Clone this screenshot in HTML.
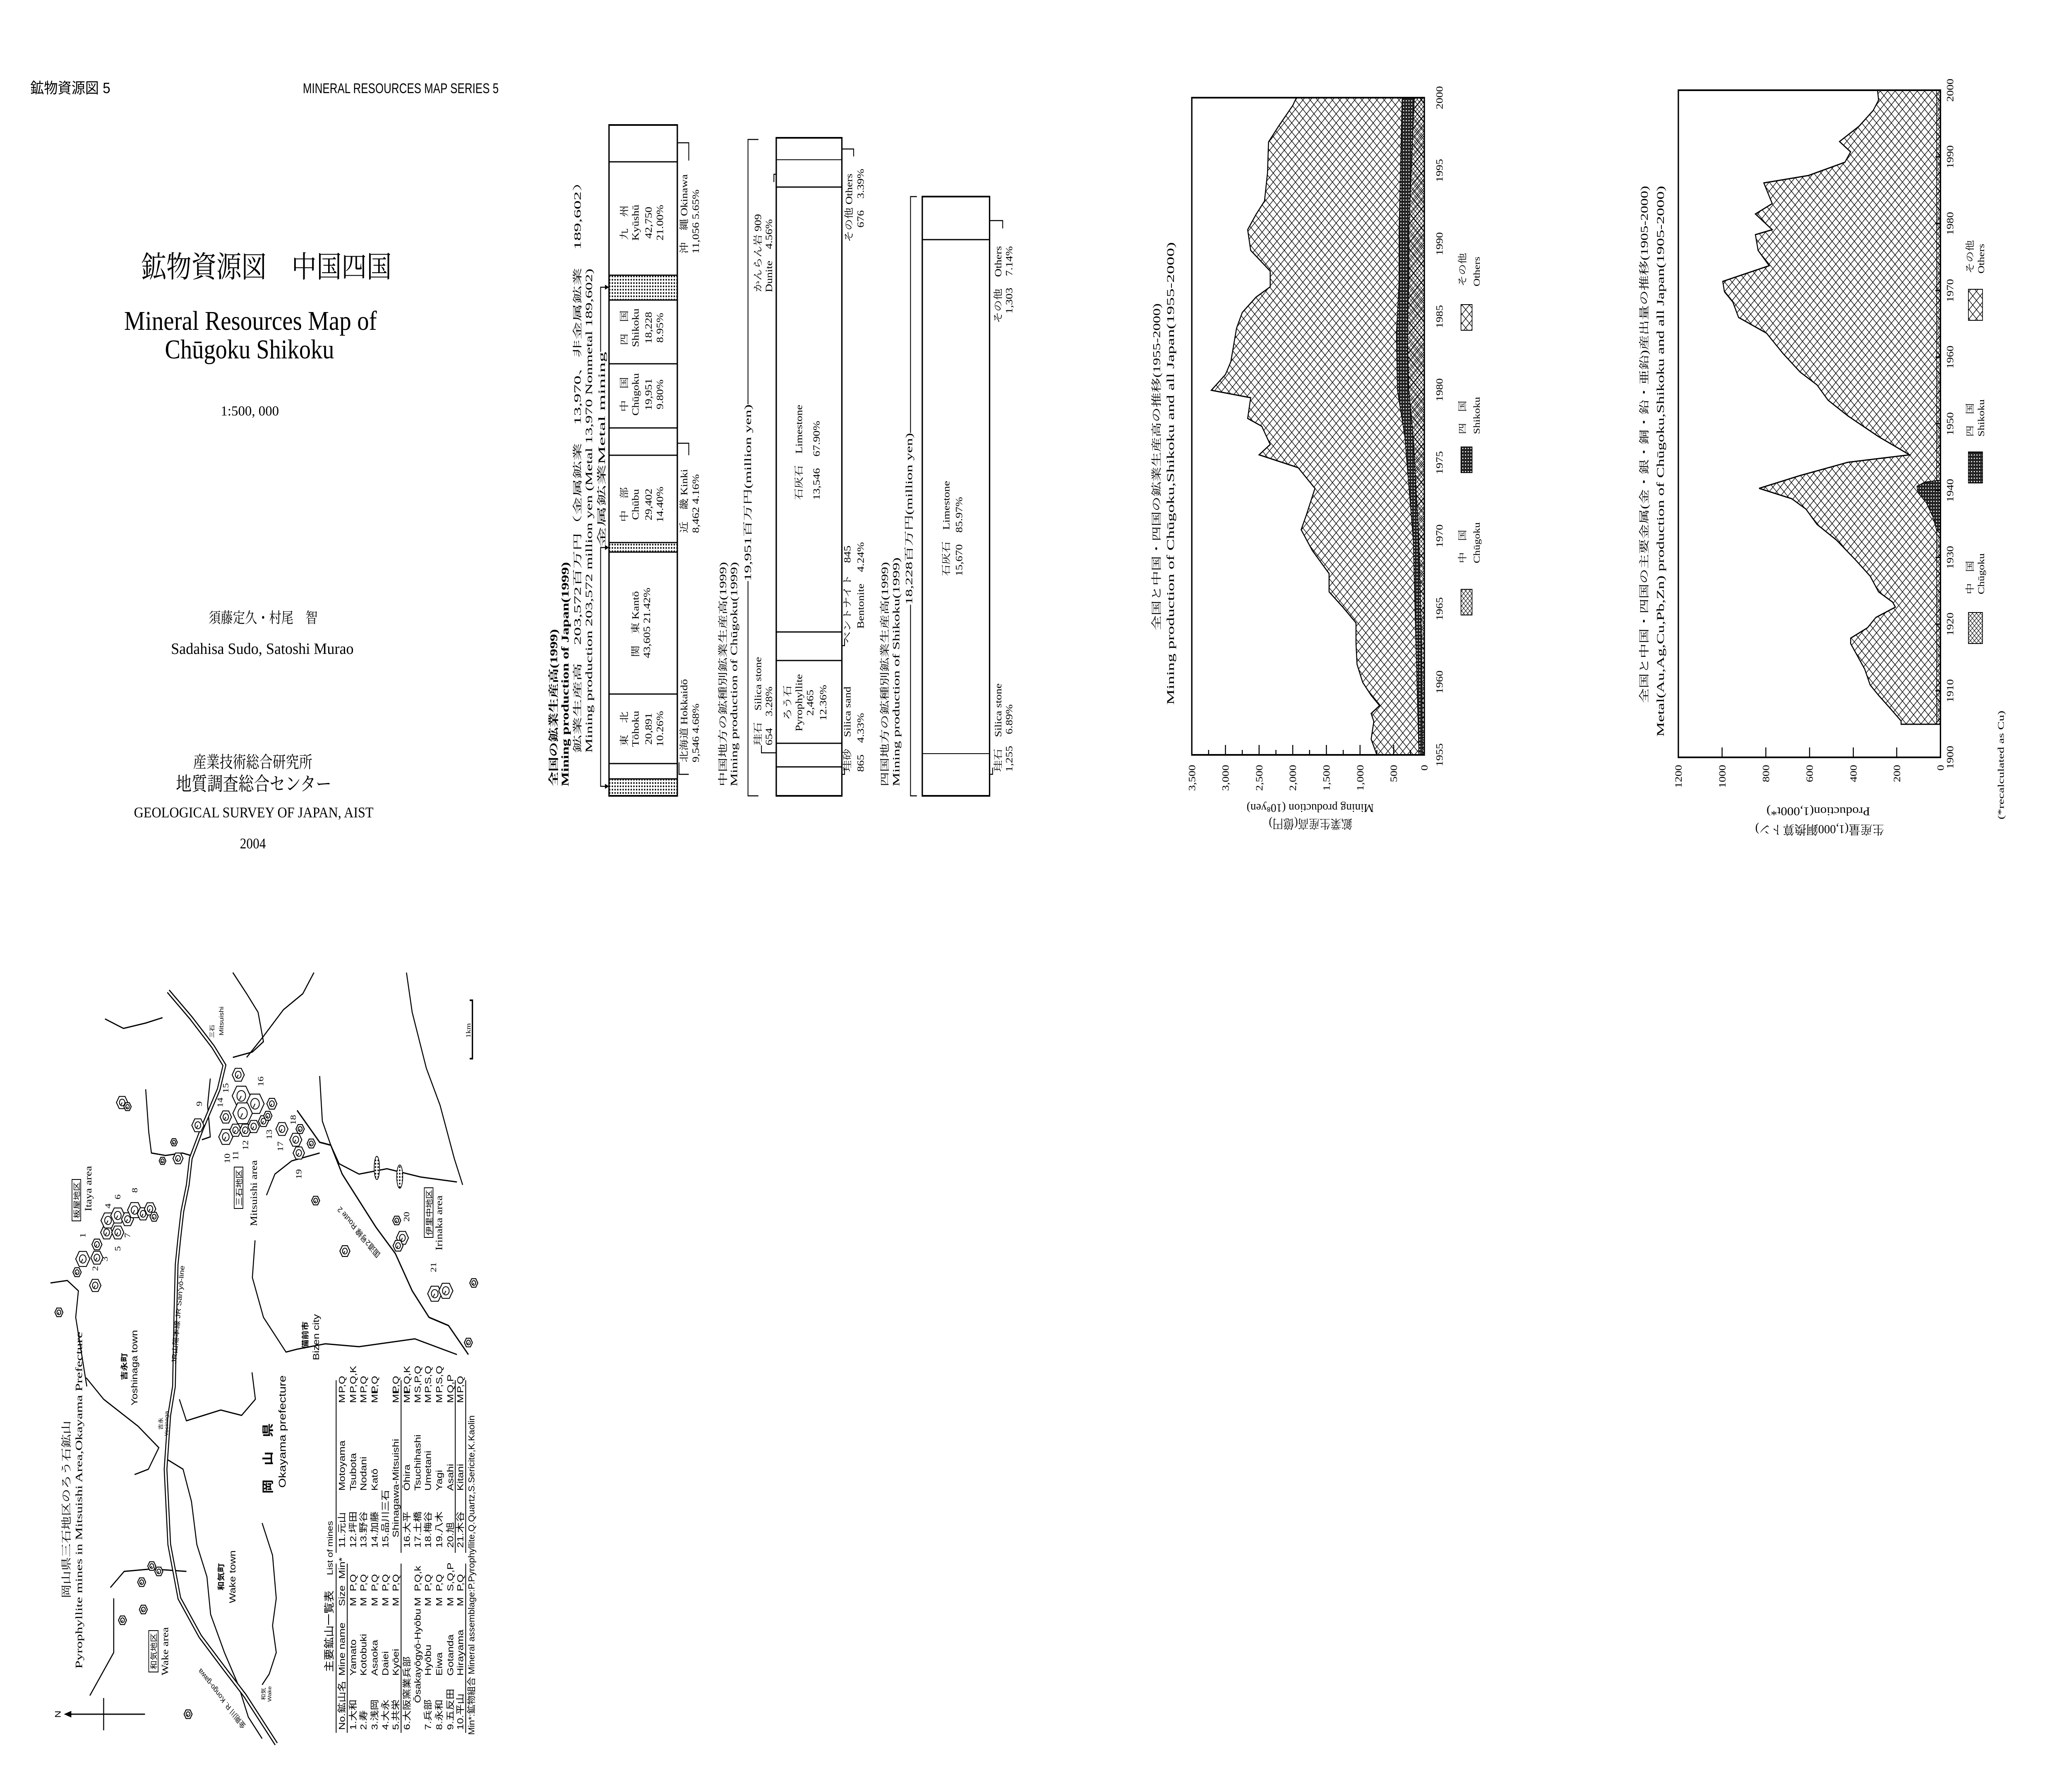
<!DOCTYPE html>
<html><head><meta charset="utf-8">
<style>
html,body{margin:0;padding:0;background:#fff;width:100%;height:100%;overflow:hidden;}
svg{display:block;width:100vw;height:100vh;}
.s{font-family:"Liberation Serif","Noto Serif CJK JP",serif;}
.g{font-family:"Liberation Sans","Noto Sans CJK JP",sans-serif;}
</style></head>
<body>
<svg xmlns="http://www.w3.org/2000/svg" xmlns:xlink="http://www.w3.org/1999/xlink" viewBox="0 0 6149 4330" preserveAspectRatio="none">
<defs>
<pattern id="hatch" width="22" height="22" patternUnits="userSpaceOnUse">
<path d="M0,0 L22,22 M22,0 L0,22" stroke="#000" stroke-width="1.6" fill="none"/>
</pattern>
<pattern id="hatch2" width="12" height="12" patternUnits="userSpaceOnUse">
<path d="M0,0 L12,12 M12,0 L0,12" stroke="#000" stroke-width="1.3" fill="none"/>
</pattern>
<pattern id="dark" width="8" height="8" patternUnits="userSpaceOnUse">
<rect width="8" height="8" fill="#222"/><rect x="2" y="2" width="3" height="3" fill="#fff"/>
</pattern>
<pattern id="dots" width="8" height="8" patternUnits="userSpaceOnUse">
<rect width="8" height="8" fill="#fff"/><circle cx="4" cy="4" r="2.2" fill="#000"/>
</pattern>
<g id="hx">
<polygon points="20,0 10,17.3 -10,17.3 -20,0 -10,-17.3 10,-17.3" fill="#fff" stroke="#000" stroke-width="2.2" vector-effect="non-scaling-stroke"/>
<circle r="9.5" fill="none" stroke="#000" stroke-width="2" vector-effect="non-scaling-stroke"/>
<line x1="0" y1="0" x2="-4" y2="7" stroke="#000" stroke-width="2" vector-effect="non-scaling-stroke"/>
</g>
</defs>
<rect width="6149" height="4330" fill="#fff"/>

<!-- ===== Header / Title page ===== -->
<text class="g" x="90" y="225" font-size="36" textLength="238" lengthAdjust="spacingAndGlyphs">鉱物資源図 5</text>
<text class="g" x="900" y="225" font-size="34" textLength="582" lengthAdjust="spacingAndGlyphs">MINERAL RESOURCES MAP SERIES 5</text>
<text class="s" x="420" y="670" font-size="72" textLength="744" lengthAdjust="spacingAndGlyphs">鉱物資源図　中国四国</text>
<text class="s" x="369" y="797" font-size="66" textLength="751" lengthAdjust="spacingAndGlyphs">Mineral Resources Map of</text>
<text class="s" x="490" y="866" font-size="66" textLength="503" lengthAdjust="spacingAndGlyphs">Chūgoku Shikoku</text>
<text class="s" x="656" y="1004" font-size="34" textLength="173" lengthAdjust="spacingAndGlyphs">1:500, 000</text>
<text class="s" x="620" y="1505" font-size="36" textLength="324" lengthAdjust="spacingAndGlyphs">須藤定久・村尾　智</text>
<text class="s" x="508" y="1580" font-size="38" textLength="543" lengthAdjust="spacingAndGlyphs">Sadahisa Sudo, Satoshi Murao</text>
<text class="s" x="574" y="1855" font-size="40" textLength="354" lengthAdjust="spacingAndGlyphs">産業技術総合研究所</text>
<text class="s" x="523" y="1910" font-size="46" textLength="462" lengthAdjust="spacingAndGlyphs">地質調査総合センター</text>
<text class="s" x="398" y="1975" font-size="36" textLength="712" lengthAdjust="spacingAndGlyphs">GEOLOGICAL SURVEY OF JAPAN, AIST</text>
<text class="s" x="713" y="2050" font-size="36" textLength="77" lengthAdjust="spacingAndGlyphs">2004</text>

<!-- ===== Bar charts ===== -->
<g class="s" fill="#000">
<rect x="1810" y="665" width="203" height="60" fill="url(#dots)"/>
<rect x="1810" y="1311" width="203" height="23" fill="url(#dots)"/>
<rect x="1810" y="1882" width="203" height="41" fill="url(#dots)"/>
<rect x="1810" y="302" width="203" height="1621" fill="none" stroke="#000" stroke-width="4"/>
<g stroke="#000" stroke-width="3">
<line x1="1810" y1="391" x2="2013" y2="391"/>
<line x1="1810" y1="665" x2="2013" y2="665"/>
<line x1="1810" y1="725" x2="2013" y2="725"/>
<line x1="1810" y1="879" x2="2013" y2="879"/>
<line x1="1810" y1="1034" x2="2013" y2="1034"/>
<line x1="1810" y1="1100" x2="2013" y2="1100"/>
<line x1="1810" y1="1311" x2="2013" y2="1311"/>
<line x1="1810" y1="1334" x2="2013" y2="1334"/>
<line x1="1810" y1="1677" x2="2013" y2="1677"/>
<line x1="1810" y1="1845" x2="2013" y2="1845"/>
<line x1="1810" y1="1882" x2="2013" y2="1882"/>
</g>
<g font-size="28" text-anchor="middle">
<text transform="translate(1865,538) rotate(-90)">九　州</text>
<text transform="translate(1898,538) rotate(-90)">Kyūshū</text>
<text transform="translate(1937,538) rotate(-90)">42,750</text>
<text transform="translate(1971,538) rotate(-90)">21.00%</text>
<text transform="translate(1865,792) rotate(-90)">四　国</text>
<text transform="translate(1898,792) rotate(-90)">Shikoku</text>
<text transform="translate(1937,792) rotate(-90)">18,228</text>
<text transform="translate(1971,792) rotate(-90)">8.95%</text>
<text transform="translate(1865,953) rotate(-90)">中　国</text>
<text transform="translate(1898,953) rotate(-90)">Chūgoku</text>
<text transform="translate(1937,953) rotate(-90)">19,951</text>
<text transform="translate(1971,953) rotate(-90)">9.80%</text>
<text transform="translate(1865,1219) rotate(-90)">中　部</text>
<text transform="translate(1898,1219) rotate(-90)">Chūbu</text>
<text transform="translate(1937,1219) rotate(-90)">29,402</text>
<text transform="translate(1971,1219) rotate(-90)">14.40%</text>
<text transform="translate(1898,1508) rotate(-90)">関　東 Kantō</text>
<text transform="translate(1932,1505) rotate(-90)">43,605  21.42%</text>
<text transform="translate(1865,1761) rotate(-90)">東　北</text>
<text transform="translate(1898,1761) rotate(-90)">Tōhoku</text>
<text transform="translate(1937,1761) rotate(-90)">20,891</text>
<text transform="translate(1971,1761) rotate(-90)">10.26%</text>
</g>
<text transform="translate(1656,1900) rotate(-90)" font-size="31" font-weight="bold" textLength="380" lengthAdjust="spacingAndGlyphs">全国の鉱業生産高(1999)</text>
<text transform="translate(1690,1900) rotate(-90)" font-size="31" font-weight="bold" textLength="542" lengthAdjust="spacingAndGlyphs">Mining production of Japan(1999)</text>
<text transform="translate(1726,1819) rotate(-90)" font-size="28" textLength="1400" lengthAdjust="spacingAndGlyphs">鉱業生産高　203,572百万円（金属鉱業　13,970、非金属鉱業　189,602）</text>
<text transform="translate(1760,1819) rotate(-90)" font-size="28" textLength="1170" lengthAdjust="spacingAndGlyphs">Mining production 203,572 million yen (Metal 13,970 Nonmetal 189,602)</text>
<text transform="translate(1798,1323) rotate(-90)" font-size="28" textLength="473" lengthAdjust="spacingAndGlyphs">金属鉱業Metal mining</text>
<g stroke="#000" stroke-width="2.5" fill="none">
<polyline points="1785,850 1785,694 1806,694"/>
<polyline points="1806,1323 1785,1323 1785,1900 1806,1900"/>
<polyline points="2013,345 2047,345 2047,388"/>
<polyline points="2013,1071 2047,1071 2047,1100"/>
<polyline points="2018,1842 2018,1871 2047,1871"/>
</g>
<polygon points="1810,694 1798,688 1798,700"/>
<polygon points="1810,1323 1798,1317 1798,1329"/>
<polygon points="1810,1900 1798,1894 1798,1906"/>
<g font-size="28">
<text transform="translate(2043,613) rotate(-90)">沖　縄 Okinawa</text>
<text transform="translate(2077,613) rotate(-90)">11,056  5.65%</text>
<text transform="translate(2043,1288) rotate(-90)">近　畿 Kinki</text>
<text transform="translate(2077,1288) rotate(-90)">8,462  4.16%</text>
<text transform="translate(2043,1842) rotate(-90)">北海道 Hokkaidō</text>
<text transform="translate(2077,1842) rotate(-90)">9,546  4.68%</text>
</g>

<rect x="2307" y="333" width="195" height="1590" fill="none" stroke="#000" stroke-width="4"/>
<g stroke="#000" stroke-width="3">
<line x1="2307" y1="386" x2="2502" y2="386" stroke-width="2"/>
<line x1="2307" y1="452" x2="2502" y2="452"/>
<line x1="2307" y1="1527" x2="2502" y2="1527"/>
<line x1="2307" y1="1596" x2="2502" y2="1596"/>
<line x1="2307" y1="1796" x2="2502" y2="1796"/>
<line x1="2307" y1="1853" x2="2502" y2="1853"/>
</g>
<g font-size="28">
<text transform="translate(2384,1208) rotate(-90)">石灰石　Limestone</text>
<text transform="translate(2436,1208) rotate(-90)">13,546　67.90%</text>
</g>
<g font-size="28" text-anchor="middle">
<text transform="translate(2350,1698) rotate(-90)">ろう石</text>
<text transform="translate(2384,1698) rotate(-90)">Pyrophyllite</text>
<text transform="translate(2417,1698) rotate(-90)">2,465</text>
<text transform="translate(2456,1698) rotate(-90)">12.36%</text>
</g>
<text transform="translate(2158,1900) rotate(-90)" font-size="29" textLength="542" lengthAdjust="spacingAndGlyphs">中国地方の鉱種別鉱業生産高(1999)</text>
<text transform="translate(2191,1900) rotate(-90)" font-size="29" textLength="542" lengthAdjust="spacingAndGlyphs">Mining production of Chūgoku(1999)</text>
<text transform="translate(2232,1404) rotate(-90)" font-size="28" textLength="427" lengthAdjust="spacingAndGlyphs">19,951百万円(million yen)</text>
<g stroke="#000" stroke-width="2.5" fill="none">
<polyline points="2254,337 2223,337 2223,977"/>
<polyline points="2223,1404 2223,1923 2254,1923"/>
<polyline points="2263,1801 2263,1819 2307,1819"/>
<polyline points="2300,440 2300,421 2307,421"/>
<polyline points="2502,360 2537,360 2537,378"/>
<polyline points="2502,1560 2510,1560 2510,1543"/>
<polyline points="2502,1871 2510,1871 2510,1855"/>
</g>
<g font-size="28">
<text transform="translate(2262,1801) rotate(-90)">珪石　Silica stone</text>
<text transform="translate(2295,1801) rotate(-90)">654　3.28%</text>
<text transform="translate(2262,706) rotate(-90)">かんらん岩 909</text>
<text transform="translate(2295,706) rotate(-90)">Dunite　4.56%</text>
<text transform="translate(2533,585) rotate(-90)">その他 Others</text>
<text transform="translate(2567,550) rotate(-90)">676　3.39%</text>
<text transform="translate(2528,1554) rotate(-90)">ベントナイト　845</text>
<text transform="translate(2567,1519) rotate(-90)">Bentonite　4.24%</text>
<text transform="translate(2528,1865) rotate(-90)">珪砂　Silica sand</text>
<text transform="translate(2567,1865) rotate(-90)">865　4.33%</text>
</g>

<rect x="2741" y="475" width="200" height="1448" fill="none" stroke="#000" stroke-width="4"/>
<line x1="2741" y1="579" x2="2941" y2="579" stroke="#000" stroke-width="3"/>
<line x1="2741" y1="1821" x2="2941" y2="1821" stroke="#000" stroke-width="2"/>
<g font-size="28">
<text transform="translate(2822,1392) rotate(-90)">石灰石　Limestone</text>
<text transform="translate(2860,1392) rotate(-90)">15,670　85.97%</text>
</g>
<text transform="translate(2639,1900) rotate(-90)" font-size="29" textLength="542" lengthAdjust="spacingAndGlyphs">四国地方の鉱種別鉱業生産高(1999)</text>
<text transform="translate(2673,1900) rotate(-90)" font-size="29" textLength="553" lengthAdjust="spacingAndGlyphs">Mining production of Shikoku(1999)</text>
<text transform="translate(2711,1461) rotate(-90)" font-size="28" textLength="415" lengthAdjust="spacingAndGlyphs">18,228百万円(million yen)</text>
<g stroke="#000" stroke-width="2.5" fill="none">
<polyline points="2725,475 2706,475 2706,1046"/>
<polyline points="2706,1461 2706,1923 2725,1923"/>
<polyline points="2941,533 2980,533 2980,552"/>
<polyline points="2941,1871 2950,1871 2950,1855"/>
</g>
<g font-size="28">
<text transform="translate(2976,781) rotate(-90)">その他　Others</text>
<text transform="translate(3009,758) rotate(-90)">1,303　7.14%</text>
<text transform="translate(2976,1865) rotate(-90)">珪石　Silica stone</text>
<text transform="translate(3009,1865) rotate(-90)">1,255　6.89%</text>
</g>
</g>

<!-- ===== Chart 1 ===== -->
<g class="s">
<text transform="translate(3448,1523) rotate(-90)" font-size="31" textLength="790" lengthAdjust="spacingAndGlyphs">全国と中国・四国の鉱業生産高の推移(1955-2000)</text>
<text transform="translate(3489,1703) rotate(-90)" font-size="31" textLength="1118" lengthAdjust="spacingAndGlyphs">Mining production of Chūgoku,Shikoku and all Japan(1955-2000)</text>
<polygon fill="url(#hatch)" stroke="#000" stroke-width="3" points="4233,236 3853,236 3842,255 3800,305 3770,343 3767,418 3758,486 3733,518 3708,555 3717,605 3775,655 3775,693 3733,718 3692,755 3675,793 3658,874 3642,905 3600,943 3717,961 3708,1011 3750,1030 3775,1074 3742,1099 3858,1130 3908,1180 3883,1243 3867,1280 3900,1330 3950,1386 3950,1430 3992,1468 4030,1505 4030,1555 4033,1605 4050,1649 4075,1680 4100,1705 4075,1724 4083,1743 4075,1786 4092,1824 4233,1824"/>
<polygon fill="url(#dark)" stroke="#000" stroke-width="2" points="4217,1824 4208,1555 4200,1305 4175,1055 4153,943 4150,805 4158,680 4158,555 4167,236 4203,236 4187,555 4187,680 4183,805 4187,943 4200,1055 4217,1305 4225,1555 4228,1824"/>
<polygon fill="url(#hatch2)" stroke="#000" stroke-width="1.5" points="4228,1824 4225,1555 4217,1305 4200,1055 4187,943 4183,805 4187,680 4187,555 4203,236 4233,236 4233,1824"/>
<rect x="3542" y="236" width="691" height="1588" fill="none" stroke="#000" stroke-width="4"/>
<g stroke="#000" stroke-width="3">
<line x1="4142" y1="1824" x2="4142" y2="1800"/><line x1="4042" y1="1824" x2="4042" y2="1800"/>
<line x1="3942" y1="1824" x2="3942" y2="1800"/><line x1="3842" y1="1824" x2="3842" y2="1800"/>
<line x1="3742" y1="1824" x2="3742" y2="1800"/><line x1="3642" y1="1824" x2="3642" y2="1800"/>
<line x1="4192" y1="1824" x2="4192" y2="1812"/><line x1="4092" y1="1824" x2="4092" y2="1812"/>
<line x1="3992" y1="1824" x2="3992" y2="1812"/><line x1="3892" y1="1824" x2="3892" y2="1812"/>
<line x1="3792" y1="1824" x2="3792" y2="1812"/><line x1="3692" y1="1824" x2="3692" y2="1812"/>
<line x1="3592" y1="1824" x2="3592" y2="1812"/>
</g>
<g font-size="28" text-anchor="end">
<text transform="translate(4243,1848) rotate(-90)">0</text>
<text transform="translate(4152,1848) rotate(-90)">500</text>
<text transform="translate(4052,1848) rotate(-90)">1,000</text>
<text transform="translate(3952,1848) rotate(-90)">1,500</text>
<text transform="translate(3852,1848) rotate(-90)">2,000</text>
<text transform="translate(3752,1848) rotate(-90)">2,500</text>
<text transform="translate(3652,1848) rotate(-90)">3,000</text>
<text transform="translate(3552,1848) rotate(-90)">3,500</text>
</g>
<g font-size="28" text-anchor="middle">
<text transform="translate(4288,1824) rotate(-90)">1955</text>
<text transform="translate(4288,1648) rotate(-90)">1960</text>
<text transform="translate(4288,1471) rotate(-90)">1965</text>
<text transform="translate(4288,1295) rotate(-90)">1970</text>
<text transform="translate(4288,1118) rotate(-90)">1975</text>
<text transform="translate(4288,942) rotate(-90)">1980</text>
<text transform="translate(4288,765) rotate(-90)">1985</text>
<text transform="translate(4288,589) rotate(-90)">1990</text>
<text transform="translate(4288,412) rotate(-90)">1995</text>
<text transform="translate(4288,236) rotate(-90)">2000</text>
</g>
<text transform="translate(3894,1943) rotate(180)" font-size="28" text-anchor="middle" textLength="378" lengthAdjust="spacingAndGlyphs">Mining production (10⁸yen)</text>
<text transform="translate(3895,1980) rotate(180)" font-size="30" text-anchor="middle" textLength="248" lengthAdjust="spacingAndGlyphs">鉱業生産高(億円)</text>
<rect x="4342" y="1424" width="33" height="62" fill="url(#hatch2)" stroke="#000" stroke-width="2"/>
<rect x="4342" y="1080" width="33" height="62" fill="url(#dark)" stroke="#000" stroke-width="2"/>
<rect x="4342" y="736" width="33" height="62" fill="url(#hatch)" stroke="#000" stroke-width="2"/>
<g font-size="27">
<text transform="translate(4356,1361) rotate(-90)">中　国</text>
<text transform="translate(4398,1361) rotate(-90)">Chūgoku</text>
<text transform="translate(4356,1049) rotate(-90)">四　国</text>
<text transform="translate(4398,1049) rotate(-90)">Shikoku</text>
<text transform="translate(4356,692) rotate(-90)">その他</text>
<text transform="translate(4398,692) rotate(-90)">Others</text>
</g>
</g>

<!-- ===== Chart 2 ===== -->
<g class="s">
<text transform="translate(4897,1699) rotate(-90)" font-size="31" textLength="1250" lengthAdjust="spacingAndGlyphs">全国と中国・四国の主要金属(金・銀・銅・鉛・亜鉛)産出量の推移(1905-2000)</text>
<text transform="translate(4945,1780) rotate(-90)" font-size="31" textLength="1331" lengthAdjust="spacingAndGlyphs">Metal(Au,Ag,Cu,Pb,Zn) production of Chūgoku,Shikoku and all Japan(1905-2000)</text>
<polygon fill="url(#hatch)" stroke="#000" stroke-width="3" points="5767,218 5580,218 5583,242 5567,267 5525,305 5467,342 5500,367 5483,392 5375,424 5242,442 5267,492 5217,517 5267,555 5217,567 5225,605 5258,642 5167,667 5120,680 5125,705 5150,730 5167,767 5250,805 5300,855 5350,899 5400,930 5433,967 5492,1005 5583,1055 5675,1099 5492,1117 5350,1149 5228,1180 5325,1205 5367,1230 5400,1267 5458,1305 5517,1355 5558,1392 5583,1430 5625,1455 5633,1467 5575,1492 5550,1517 5500,1542 5500,1555 5525,1592 5542,1617 5558,1655 5583,1680 5617,1711 5650,1742 5650,1750 5767,1750"/>
<rect x="5755" y="218" width="12" height="1532" fill="url(#hatch2)" stroke="#000" stroke-width="1.5"/>
<polygon fill="url(#dark)" stroke="#000" stroke-width="2" points="5767,1290 5755,1280 5745,1250 5725,1215 5700,1190 5697,1175 5720,1165 5767,1160"/>
<rect x="4988" y="218" width="779" height="1612" fill="none" stroke="#000" stroke-width="4"/>
<g stroke="#000" stroke-width="3">
<line x1="5637" y1="1830" x2="5637" y2="1806"/><line x1="5508" y1="1830" x2="5508" y2="1806"/>
<line x1="5378" y1="1830" x2="5378" y2="1806"/><line x1="5248" y1="1830" x2="5248" y2="1806"/>
<line x1="5118" y1="1830" x2="5118" y2="1806"/>
<line x1="5767" y1="1669" x2="5752" y2="1669"/><line x1="5767" y1="1508" x2="5752" y2="1508"/>
<line x1="5767" y1="1347" x2="5752" y2="1347"/><line x1="5767" y1="1185" x2="5752" y2="1185"/>
<line x1="5767" y1="1024" x2="5752" y2="1024"/><line x1="5767" y1="863" x2="5752" y2="863"/>
<line x1="5767" y1="702" x2="5752" y2="702"/><line x1="5767" y1="540" x2="5752" y2="540"/>
<line x1="5767" y1="379" x2="5752" y2="379"/>
</g>
<g font-size="28" text-anchor="end">
<text transform="translate(5777,1848) rotate(-90)">0</text>
<text transform="translate(5647,1848) rotate(-90)">200</text>
<text transform="translate(5518,1848) rotate(-90)">400</text>
<text transform="translate(5388,1848) rotate(-90)">600</text>
<text transform="translate(5258,1848) rotate(-90)">800</text>
<text transform="translate(5128,1848) rotate(-90)">1000</text>
<text transform="translate(4998,1848) rotate(-90)">1200</text>
</g>
<g font-size="28" text-anchor="middle">
<text transform="translate(5805,1830) rotate(-90)">1900</text>
<text transform="translate(5805,1669) rotate(-90)">1910</text>
<text transform="translate(5805,1508) rotate(-90)">1920</text>
<text transform="translate(5805,1347) rotate(-90)">1930</text>
<text transform="translate(5805,1185) rotate(-90)">1940</text>
<text transform="translate(5805,1024) rotate(-90)">1950</text>
<text transform="translate(5805,863) rotate(-90)">1960</text>
<text transform="translate(5805,702) rotate(-90)">1970</text>
<text transform="translate(5805,540) rotate(-90)">1980</text>
<text transform="translate(5805,379) rotate(-90)">1990</text>
<text transform="translate(5805,218) rotate(-90)">2000</text>
</g>
<text transform="translate(5404,1951) rotate(180)" font-size="28" text-anchor="middle" textLength="308" lengthAdjust="spacingAndGlyphs">Production(1,000t*)</text>
<text transform="translate(5408,1994) rotate(180)" font-size="30" text-anchor="middle" textLength="383" lengthAdjust="spacingAndGlyphs">生産量(1,000銅換算トン)</text>
<rect x="5850" y="1480" width="42" height="75" fill="url(#hatch2)" stroke="#000" stroke-width="2"/>
<rect x="5850" y="1092" width="42" height="75" fill="url(#dark)" stroke="#000" stroke-width="2"/>
<rect x="5850" y="699" width="42" height="75" fill="url(#hatch)" stroke="#000" stroke-width="2"/>
<g font-size="27">
<text transform="translate(5864,1436) rotate(-90)">中　国</text>
<text transform="translate(5897,1436) rotate(-90)">Chūgoku</text>
<text transform="translate(5864,1055) rotate(-90)">四　国</text>
<text transform="translate(5897,1055) rotate(-90)">Shikoku</text>
<text transform="translate(5864,661) rotate(-90)">その他</text>
<text transform="translate(5897,661) rotate(-90)">Others</text>
</g>
<text transform="translate(5955,1980) rotate(-90)" font-size="26" textLength="263" lengthAdjust="spacingAndGlyphs">(*recalculated as Cu)</text>
</g>

<!-- ===== Map ===== -->
<g fill="none" stroke="#000" stroke-width="3">
<polyline points="312,2462 367,2485 433,2472 483,2459"/>
<polyline points="692,2350 733,2401 767,2446 783,2517 750,2542 692,2555"/>
<polyline points="933,2350 900,2401 842,2440 783,2504 733,2555"/>
<polyline points="1208,2350 1225,2446 1267,2581 1308,2671 1350,2799 1375,2863"/>
<polyline points="950,2600 958,2709 983,2767"/>
<polyline points="983,2767 1008,2812 1067,2837 1150,2824 1250,2844 1358,2856"/>
<polyline points="758,2997 750,3087 783,3183 850,3267 883,3260 967,3247 1067,3254 1233,3235 1358,3273"/>
<polyline points="792,2888 817,2837 867,2805 950,2786"/>
<polyline points="150,3100 200,3094 233,3119 225,3183 258,3350"/>
<polyline points="433,2632 442,2735 450,2786 492,2792 542,2786 567,2792"/>
<polyline points="625,2606 617,2670 625,2747 600,2754"/>
<polyline points="256,3329 308,3381 410,3446 472,3498 441,3550 400,3563"/>
<polyline points="533,3381 554,3433 605,3420 656,3407 718,3420 759,3381 749,3316"/>
<polyline points="328,3836 369,3797 451,3791 554,3797"/>
<polyline points="267,4097 338,3993 338,3862"/>
<polyline points="779,3680 810,3758 821,3862 810,3928 821,3993 800,4045 779,4071"/>
<polyline points="492,3524 544,3550 569,3628 585,3732 615,3810 626,3901 667,3993 708,4071 738,4149 779,4201"/>
<polyline stroke-width="3.5" points="883,2683 950,2760 983,2767 1017,2837 1067,2901 1117,2965 1175,3029 1225,3119 1275,3183 1333,3203 1392,3273"/>
</g>
<polyline fill="none" stroke="#000" stroke-width="11" points="500,2395 567,2459 633,2529 667,2574 650,2632 600,2728 567,2799 558,2863 542,2927 533,2991 525,3055 521,3183 517,3350 503,3420 492,3550 503,3732 533,3862 595,3954 667,4032 728,4097 790,4175 821,4214"/>
<polyline fill="none" stroke="#fff" stroke-width="5" points="500,2395 567,2459 633,2529 667,2574 650,2632 600,2728 567,2799 558,2863 542,2927 533,2991 525,3055 521,3183 517,3350 503,3420 492,3550 503,3732 533,3862 595,3954 667,4032 728,4097 790,4175 821,4214"/>
<ellipse cx="1120" cy="2822" rx="8" ry="28" fill="url(#dots)" stroke="#000" stroke-width="2"/>
<ellipse cx="1188" cy="2843" rx="9" ry="28" fill="url(#dots)" stroke="#000" stroke-width="2"/>
<polyline fill="none" stroke="#000" stroke-width="4" points="1396,2417 1404,2417 1404,2558 1396,2558"/>
<line x1="200" y1="4142" x2="431" y2="4142" stroke="#000" stroke-width="3"/>
<polygon points="190,4142 212,4134 212,4150"/>
<line x1="308" y1="4103" x2="308" y2="4181" stroke="#000" stroke-width="3"/>

<g>
<use xlink:href="#hx" transform="translate(229,3074) scale(0.62)"/>
<use xlink:href="#hx" transform="translate(246,3042) scale(1.05)"/>
<use xlink:href="#hx" transform="translate(288,3039) scale(0.9)"/>
<use xlink:href="#hx" transform="translate(288,3007) scale(0.75)"/>
<use xlink:href="#hx" transform="translate(317,2978) scale(0.9)"/>
<use xlink:href="#hx" transform="translate(321,2949) scale(1.05)"/>
<use xlink:href="#hx" transform="translate(350,2978) scale(0.9)"/>
<use xlink:href="#hx" transform="translate(350,2937) scale(1.05)"/>
<use xlink:href="#hx" transform="translate(379,2946) scale(0.9)"/>
<use xlink:href="#hx" transform="translate(400,2924) scale(1.05)"/>
<use xlink:href="#hx" transform="translate(425,2933) scale(0.85)"/>
<use xlink:href="#hx" transform="translate(446,2921) scale(0.85)"/>
<use xlink:href="#hx" transform="translate(458,2940) scale(0.62)"/>
<use xlink:href="#hx" transform="translate(283,3106) scale(0.85)"/>
<use xlink:href="#hx" transform="translate(363,2664) scale(0.85)"/>
<use xlink:href="#hx" transform="translate(379,2674) scale(0.55)"/>
<use xlink:href="#hx" transform="translate(708,2597) scale(0.9)"/>
<use xlink:href="#hx" transform="translate(717,2648) scale(1.35)"/>
<use xlink:href="#hx" transform="translate(758,2667) scale(1.35)"/>
<use xlink:href="#hx" transform="translate(721,2690) scale(1.45)"/>
<use xlink:href="#hx" transform="translate(671,2699) scale(0.85)"/>
<use xlink:href="#hx" transform="translate(671,2747) scale(1.05)"/>
<use xlink:href="#hx" transform="translate(700,2731) scale(0.85)"/>
<use xlink:href="#hx" transform="translate(729,2731) scale(0.85)"/>
<use xlink:href="#hx" transform="translate(754,2722) scale(0.85)"/>
<use xlink:href="#hx" transform="translate(783,2709) scale(0.75)"/>
<use xlink:href="#hx" transform="translate(796,2696) scale(0.62)"/>
<use xlink:href="#hx" transform="translate(808,2667) scale(0.75)"/>
<use xlink:href="#hx" transform="translate(838,2728) scale(0.9)"/>
<use xlink:href="#hx" transform="translate(879,2754) scale(0.9)"/>
<use xlink:href="#hx" transform="translate(892,2728) scale(0.62)"/>
<use xlink:href="#hx" transform="translate(888,2786) scale(0.85)"/>
<use xlink:href="#hx" transform="translate(925,2763) scale(0.62)"/>
<use xlink:href="#hx" transform="translate(588,2719) scale(0.9)"/>
<use xlink:href="#hx" transform="translate(517,2760) scale(0.5)"/>
<use xlink:href="#hx" transform="translate(529,2799) scale(0.75)"/>
<use xlink:href="#hx" transform="translate(483,2805) scale(0.5)"/>
<use xlink:href="#hx" transform="translate(175,3171) scale(0.6)"/>
<use xlink:href="#hx" transform="translate(938,2901) scale(0.6)"/>
<use xlink:href="#hx" transform="translate(1025,3023) scale(0.75)"/>
<use xlink:href="#hx" transform="translate(1179,2949) scale(0.6)"/>
<use xlink:href="#hx" transform="translate(1196,2991) scale(0.9)"/>
<use xlink:href="#hx" transform="translate(1183,3010) scale(0.75)"/>
<use xlink:href="#hx" transform="translate(1292,3126) scale(1.05)"/>
<use xlink:href="#hx" transform="translate(1325,3119) scale(1.05)"/>
<use xlink:href="#hx" transform="translate(1408,3100) scale(0.6)"/>
<use xlink:href="#hx" transform="translate(1392,3244) scale(0.6)"/>
<use xlink:href="#hx" transform="translate(451,3784) scale(0.6)"/>
<use xlink:href="#hx" transform="translate(421,3823) scale(0.6)"/>
<use xlink:href="#hx" transform="translate(472,3797) scale(0.6)"/>
<use xlink:href="#hx" transform="translate(364,3915) scale(0.6)"/>
<use xlink:href="#hx" transform="translate(426,3889) scale(0.6)"/>
<use xlink:href="#hx" transform="translate(559,4142) scale(0.6)"/>
</g>

<g class="s" font-size="24">
<text transform="translate(254,2985) rotate(-90)" text-anchor="middle">1</text>
<text transform="translate(291,3065) rotate(-90)" text-anchor="middle">2</text>
<text transform="translate(320,3042) rotate(-90)" text-anchor="middle">3</text>
<text transform="translate(329,2914) rotate(-90)" text-anchor="middle">4</text>
<text transform="translate(358,3017) rotate(-90)" text-anchor="middle">5</text>
<text transform="translate(358,2892) rotate(-90)" text-anchor="middle">6</text>
<text transform="translate(387,2985) rotate(-90)" text-anchor="middle">7</text>
<text transform="translate(408,2876) rotate(-90)" text-anchor="middle">8</text>
<text transform="translate(600,2667) rotate(-90)" text-anchor="middle">9</text>
<text transform="translate(683,2799) rotate(-90)" text-anchor="middle">10</text>
<text transform="translate(708,2792) rotate(-90)" text-anchor="middle">11</text>
<text transform="translate(737,2767) rotate(-90)" text-anchor="middle">12</text>
<text transform="translate(808,2741) rotate(-90)" text-anchor="middle">13</text>
<text transform="translate(662,2664) rotate(-90)" text-anchor="middle">14</text>
<text transform="translate(679,2629) rotate(-90)" text-anchor="middle">15</text>
<text transform="translate(783,2613) rotate(-90)" text-anchor="middle">16</text>
<text transform="translate(841,2770) rotate(-90)" text-anchor="middle">17</text>
<text transform="translate(879,2706) rotate(-90)" text-anchor="middle">18</text>
<text transform="translate(896,2837) rotate(-90)" text-anchor="middle">19</text>
<text transform="translate(1216,2940) rotate(-90)" text-anchor="middle">20</text>
<text transform="translate(1296,3062) rotate(-90)" text-anchor="middle">21</text>
<text transform="translate(1398,2490) rotate(-90)" text-anchor="middle" font-size="20">1km</text>
<text transform="translate(208,3647) rotate(-90)" text-anchor="middle" font-size="31" textLength="429" lengthAdjust="spacingAndGlyphs">岡山県三石地区のろう石鉱山</text>
<text transform="translate(244,3625) rotate(-90)" text-anchor="middle" font-size="28" textLength="814" lengthAdjust="spacingAndGlyphs">Pyrophyllite mines in Mitsuishi Area,Okayama Prefecture</text>
<text transform="translate(272,2872) rotate(-90)" text-anchor="middle" font-size="28">Itaya area</text>
<text transform="translate(764,2883) rotate(-90)" text-anchor="middle" font-size="28">Mitsuishi area</text>
<text transform="translate(1314,2955) rotate(-90)" text-anchor="middle" font-size="28">Irinaka area</text>
<text transform="translate(500,3990) rotate(-90)" text-anchor="middle" font-size="28">Wake area</text>
</g>
<g class="g" font-size="22">
<g text-anchor="middle">
<rect x="214" y="2850" width="26" height="100" fill="none" stroke="#000" stroke-width="2"/>
<text transform="translate(236,2900) rotate(-90)">板屋地区</text>
<rect x="696" y="2820" width="26" height="100" fill="none" stroke="#000" stroke-width="2"/>
<text transform="translate(718,2870) rotate(-90)">三石地区</text>
<rect x="1261" y="2870" width="26" height="120" fill="none" stroke="#000" stroke-width="2"/>
<text transform="translate(1283,2930) rotate(-90)">伊里中地区</text>
<rect x="442" y="3940" width="28" height="100" fill="none" stroke="#000" stroke-width="2"/>
<text transform="translate(465,3990) rotate(-90)">和気地区</text>
<text transform="translate(664,2467) rotate(-90)" font-size="18">Mitsuishi</text>
<text transform="translate(636,2492) rotate(-90)" font-size="16">三石</text>
<text transform="translate(377,3302) rotate(-90)" font-weight="bold">吉永町</text>
<text transform="translate(408,3305) rotate(-90)" font-size="26">Yoshinaga  town</text>
<text transform="translate(483,3440) rotate(-90)" font-size="15">吉永</text>
<text transform="translate(500,3440) rotate(-90)" font-size="15">Yosinaga</text>
<text transform="translate(665,3810) rotate(-90)" font-weight="bold">和気町</text>
<text transform="translate(700,3810) rotate(-90)" font-size="26">Wake  town</text>
<text transform="translate(808,3524) rotate(-90)" font-size="34" font-weight="bold">岡　山　県</text>
<text transform="translate(849,3459) rotate(-90)" font-size="30">Okayama prefecture</text>
<text transform="translate(915,3226) rotate(-90)" font-weight="bold">備前市</text>
<text transform="translate(948,3231) rotate(-90)" font-size="26">Bizen  city</text>
<text transform="translate(788,4093) rotate(-90)" font-size="15">和気</text>
<text transform="translate(806,4093) rotate(-90)" font-size="15">Wake</text>
<text transform="translate(180,4142) rotate(-90)" font-size="24">N</text>
<text transform="translate(1071,2972) rotate(-136)" font-size="20">国道2号線 Route 2</text>
<text transform="translate(536,3177) rotate(-84)" font-size="20">JR山陽本線 JR San'yō-line</text>
<text transform="translate(664,4100) rotate(-134)" font-size="19">金剛川 R. Kongo-gawa</text>
</g>
</g>

<g stroke="#000" stroke-width="2.5">
<line x1="999" y1="3335" x2="999" y2="3752"/><line x1="999" y1="3778" x2="999" y2="4187"/>
<line x1="1032" y1="3778" x2="1032" y2="4187"/>
<line x1="1192" y1="3335" x2="1192" y2="3752"/><line x1="1192" y1="3778" x2="1192" y2="4187"/>
<line x1="1353" y1="3335" x2="1353" y2="3752"/>
<line x1="1384" y1="3335" x2="1384" y2="3752"/><line x1="1384" y1="3778" x2="1384" y2="4187"/>
</g>
<g class="g" font-size="26">
<text transform="translate(989,4040) rotate(-90)" font-size="31" textLength="197" lengthAdjust="spacingAndGlyphs">主要鉱山一覧表</text>
<text transform="translate(989,3806) rotate(-90)" font-size="24" textLength="131" lengthAdjust="spacingAndGlyphs">List of mines</text>
<text transform="translate(1025,4180) rotate(-90)">No.鉱山名</text>
<text transform="translate(1025,4049) rotate(-90)">Mine  name</text>
<text transform="translate(1025,3881) rotate(-90)">Size</text>
<text transform="translate(1025,3815) rotate(-90)">Min*</text>
<text transform="translate(1058,4180) rotate(-90)">1.大和</text><text transform="translate(1058,4049) rotate(-90)">Yamato</text><text transform="translate(1058,3881) rotate(-90)">M</text><text transform="translate(1058,3845) rotate(-90)">P,Q</text>
<text transform="translate(1089,4180) rotate(-90)">2.寿</text><text transform="translate(1089,4049) rotate(-90)">Kotobuki</text><text transform="translate(1089,3881) rotate(-90)">M</text><text transform="translate(1089,3845) rotate(-90)">P,Q</text>
<text transform="translate(1122,4180) rotate(-90)">3.浅岡</text><text transform="translate(1122,4049) rotate(-90)">Asaoka</text><text transform="translate(1122,3881) rotate(-90)">M</text><text transform="translate(1122,3845) rotate(-90)">P,Q</text>
<text transform="translate(1154,4180) rotate(-90)">4.大永</text><text transform="translate(1154,4049) rotate(-90)">Daiei</text><text transform="translate(1154,3881) rotate(-90)">M</text><text transform="translate(1154,3845) rotate(-90)">P,Q</text>
<text transform="translate(1185,4180) rotate(-90)">5.共栄</text><text transform="translate(1185,4049) rotate(-90)">Kyōei</text><text transform="translate(1185,3881) rotate(-90)">M</text><text transform="translate(1185,3845) rotate(-90)">P,Q</text>
<text transform="translate(1218,4180) rotate(-90)">6.大阪窯業兵部</text>
<text transform="translate(1250,4115) rotate(-90)">Ōsakayōgyō-Hyōbu</text><text transform="translate(1250,3881) rotate(-90)">M</text><text transform="translate(1250,3845) rotate(-90)">P,Q,k</text>
<text transform="translate(1281,4180) rotate(-90)">7.兵部</text><text transform="translate(1281,4049) rotate(-90)">Hyōbu</text><text transform="translate(1281,3881) rotate(-90)">M</text><text transform="translate(1281,3845) rotate(-90)">P,Q</text>
<text transform="translate(1314,4180) rotate(-90)">8.永和</text><text transform="translate(1314,4049) rotate(-90)">Eiwa</text><text transform="translate(1314,3881) rotate(-90)">M</text><text transform="translate(1314,3845) rotate(-90)">P,Q</text>
<text transform="translate(1347,4180) rotate(-90)">9.五反田</text><text transform="translate(1347,4049) rotate(-90)">Gotanda</text><text transform="translate(1347,3881) rotate(-90)">M</text><text transform="translate(1347,3845) rotate(-90)">S,Q,P</text>
<text transform="translate(1377,4180) rotate(-90)">10.平山</text><text transform="translate(1377,4049) rotate(-90)">Hirayama</text><text transform="translate(1377,3881) rotate(-90)">M</text><text transform="translate(1377,3845) rotate(-90)">P,Q</text>

<text transform="translate(1025,3740) rotate(-90)">11.元山</text><text transform="translate(1025,3602) rotate(-90)">Motoyama</text><text transform="translate(1025,3390) rotate(-90)">M</text><text transform="translate(1025,3366) rotate(-90)">P,Q</text>
<text transform="translate(1058,3740) rotate(-90)">12.坪田</text><text transform="translate(1058,3602) rotate(-90)">Tsubota</text><text transform="translate(1058,3390) rotate(-90)">M</text><text transform="translate(1058,3366) rotate(-90)">P,Q,K</text>
<text transform="translate(1089,3740) rotate(-90)">13.野谷</text><text transform="translate(1089,3602) rotate(-90)">Nodani</text><text transform="translate(1089,3390) rotate(-90)">M</text><text transform="translate(1089,3366) rotate(-90)">P,Q</text>
<text transform="translate(1122,3740) rotate(-90)">14.加藤</text><text transform="translate(1122,3602) rotate(-90)">Katō</text><text transform="translate(1122,3390) rotate(-90)">ML</text><text transform="translate(1122,3366) rotate(-90)">P,Q</text>
<text transform="translate(1154,3740) rotate(-90)">15.品川三石</text>
<text transform="translate(1185,3715) rotate(-90)">Shinagawa-Mitsuishi</text><text transform="translate(1185,3390) rotate(-90)">ML</text><text transform="translate(1185,3366) rotate(-90)">P,Q</text>
<text transform="translate(1218,3740) rotate(-90)">16.大平</text><text transform="translate(1218,3602) rotate(-90)">Ōhira</text><text transform="translate(1218,3390) rotate(-90)">ML</text><text transform="translate(1218,3366) rotate(-90)">P,Q,K</text>
<text transform="translate(1250,3740) rotate(-90)">17.土橋</text><text transform="translate(1250,3602) rotate(-90)">Tsuchihashi</text><text transform="translate(1250,3390) rotate(-90)">M</text><text transform="translate(1250,3366) rotate(-90)">S,P,Q</text>
<text transform="translate(1281,3740) rotate(-90)">18.梅谷</text><text transform="translate(1281,3602) rotate(-90)">Umetani</text><text transform="translate(1281,3390) rotate(-90)">M</text><text transform="translate(1281,3366) rotate(-90)">P,S,Q</text>
<text transform="translate(1314,3740) rotate(-90)">19.八木</text><text transform="translate(1314,3602) rotate(-90)">Yagi</text><text transform="translate(1314,3390) rotate(-90)">M</text><text transform="translate(1314,3366) rotate(-90)">P,S,Q</text>
<text transform="translate(1347,3740) rotate(-90)">20.旭</text><text transform="translate(1347,3602) rotate(-90)">Asahi</text><text transform="translate(1347,3390) rotate(-90)">M</text><text transform="translate(1347,3366) rotate(-90)">Q,P</text>
<text transform="translate(1377,3740) rotate(-90)">21.木谷</text><text transform="translate(1377,3602) rotate(-90)">Kitani</text><text transform="translate(1377,3390) rotate(-90)">M</text><text transform="translate(1377,3366) rotate(-90)">P,Q</text>
<text transform="translate(1410,4192) rotate(-90)" textLength="772" lengthAdjust="spacingAndGlyphs">Min*:鉱物組合 Mineral assemblage:P.Pyrophyllite,Q.Quartz,S.Sericite,K.Kaolin</text>
</g>
</svg>
</body></html>
